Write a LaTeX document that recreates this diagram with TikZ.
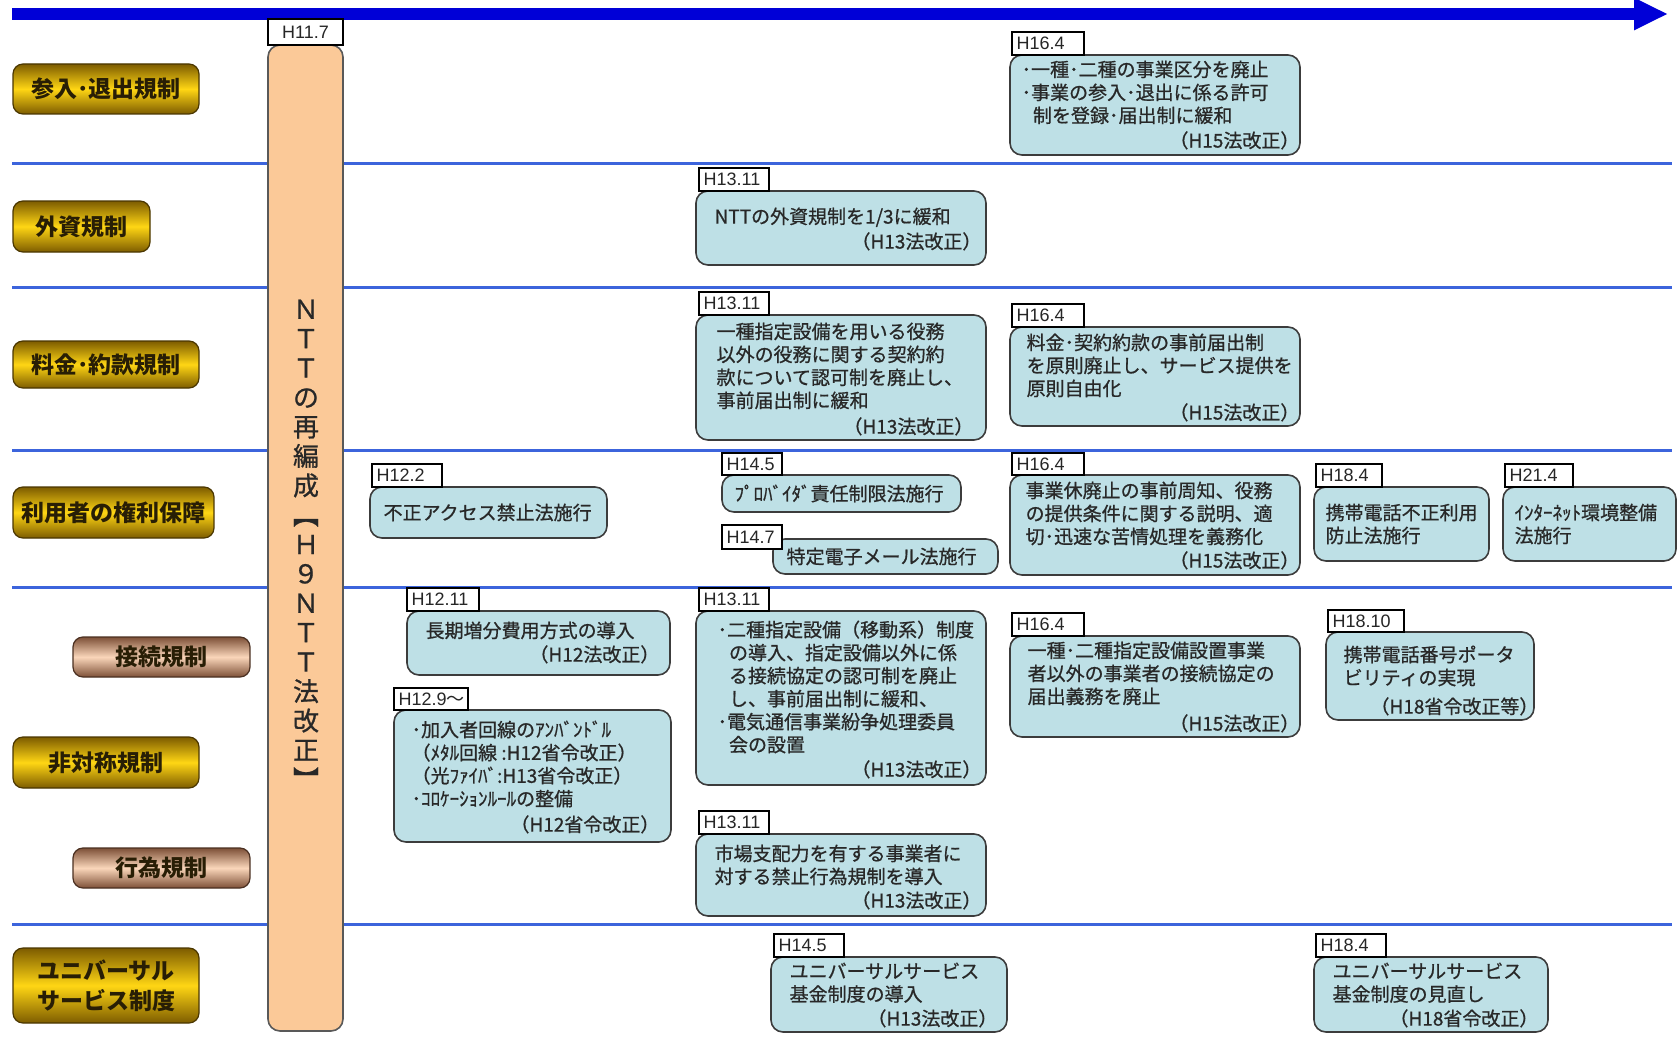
\documentclass[tikz,border=0pt]{standalone}
\usepackage{fontspec}
\usepackage{graphicx}
\setmainfont{Liberation Sans}
\newfontfamily\jp{Noto Sans CJK JP}
\newfontfamily\jpm[FakeBold=0.8]{Noto Sans CJK JP}
\usetikzlibrary{fit,arrows.meta}
\definecolor{tlblue}{RGB}{0,0,215}
\definecolor{sepblue}{RGB}{60,100,220}
\definecolor{evfill}{RGB}{190,224,230}
\definecolor{evline}{RGB}{60,60,60}
\definecolor{barfill}{RGB}{251,201,152}
\definecolor{txt}{RGB}{40,40,40}
\definecolor{golddark}{RGB}{125,92,0}
\definecolor{goldmid}{RGB}{255,214,20}
\definecolor{bronzedark}{RGB}{125,80,55}
\definecolor{bronzemid}{RGB}{250,214,186}
\definecolor{labtxt}{RGB}{40,30,5}
\tikzset{
 evb/.style={draw=evline, line width=0.8pt, fill=evfill, rounded corners=6pt, inner sep=0pt},
 datb/.style={draw=black, line width=0.7pt, fill=white, inner sep=0pt},
 datt/.style={font=\fontsize{9}{10}\selectfont, text=black!85, inner sep=0pt},
 evt/.style={font=\jpm\fontsize{9.5}{11.5}\selectfont, text=txt, align=left, inner sep=0pt},
 gold/.style={draw=golddark!60!black, line width=0.6pt, rounded corners=5pt, top color=golddark, bottom color=golddark, middle color=goldmid, inner sep=0pt},
 bronze/.style={draw=bronzedark!60!black, line width=0.6pt, rounded corners=5pt, top color=bronzedark, bottom color=bronzedark, middle color=bronzemid, inner sep=0pt},
 cattext/.style={font=\jp\bfseries\fontsize{11.5}{15}\selectfont, text=labtxt, align=center, inner sep=0pt},
 sepline/.style={draw=sepblue, line width=1.5pt},
 timeline/.style={draw=tlblue, line width=6pt, -{Triangle[length=17pt,width=15pt]}},
 bar/.style={draw=black!65, line width=0.8pt, fill=barfill, rounded corners=6pt, inner sep=0pt},
 bartext/.style={font=\jpm\fontsize{13}{14.7}\selectfont, text=txt, align=center, inner sep=0pt},
}
% style name x1 y1 x2 y2 text
\newcommand\catlab[7]{\node[#1, fit={(#3,#4) (#5,#6)}] (#2) {};
  \node[cattext] (#2t) at (#2.center) {#7};}
% name x1 y1 x2 y2
\newcommand\evbox[5]{\node[evb, fit={(#2,#3) (#4,#5)}] (#1) {};}
% name x1 y1 x2 y2 text
\newcommand\datelab[6]{\node[datb, fit={(#2,#3) (#4,#5)}] (#1) {};
  \node[datt, anchor=west] (#1t) at ([xshift=2.5pt]#1.west) {#6};}
% box dx dy text
\newcommand\evtxt[4]{\node[evt, anchor=north west] (#1t) at ([shift={(#2,#3)}]#1.north west) {#4};}
% box dx text  (vertically centred)
\newcommand\evmid[3]{\node[evt, anchor=west] (#1t) at ([xshift=#2*0.5pt]#1.west) {#3};}
% box dx dy text
\newcommand\evlaw[4]{\node[evt, anchor=south east] (#1l) at ([shift={(#2,#3)}]#1.south east) {#4};}
\begin{document}
\begin{tikzpicture}[x=0.5pt,y=-0.5pt]
\fill[white] (0,0) rectangle (1680,1038);
\useasboundingbox (0,0) rectangle (1680,1038);
% separators
\foreach \yy/\nm in {163/s1,287/s2,450/s3,587/s4,924/s5}{
  \coordinate (\nm a) at (12,\yy); \coordinate (\nm b) at (1672,\yy);
  \draw[sepline] (\nm a) -- (\nm b);}
% timeline
\coordinate (t0) at (12,14); \coordinate (t1) at (1668,14);
\draw[timeline] (t0) -- (t1);
% NTT bar
\node[bar, fit={(268,45) (343,1031)}] (bar) {};
\node[datb, fit={(268,19) (343,45)}] (barlab) {};
\node[datt] (barlabt) at (barlab.center) {H11.7};
\node[bartext] (ntt) at (306,546) {Ｎ\\Ｔ\\Ｔ\\の\\再\\編\\成\\\rotatebox[origin=c]{-90}{【}\\Ｈ\\９\\Ｎ\\Ｔ\\Ｔ\\法\\改\\正\\\rotatebox[origin=c]{-90}{】}};
% categories
\catlab{gold}{c1}{13}{64}{199}{114}{参入･退出規制}
\catlab{gold}{c2}{13}{201}{150}{252}{外資規制}
\catlab{gold}{c3}{13}{341}{199}{388}{料金･約款規制}
\catlab{gold}{c4}{13}{487}{214}{538}{利用者の権利保障}
\catlab{bronze}{c5}{73}{637}{250}{677}{接続規制}
\catlab{gold}{c6}{13}{737}{199}{788}{非対称規制}
\catlab{bronze}{c7}{73}{848}{250}{888}{行為規制}
\catlab{gold}{c8}{13}{948}{199}{1023}{ユニバーサル\\サービス制度}
% event boxes
\evbox{A}{1010}{55}{1300}{155}
\evtxt{A}{12}{6}{･一種･二種の事業区分を廃止\\･事業の参入･退出に係る許可\\\hspace*{0.6em}制を登録･届出制に緩和}
\evlaw{A}{-1}{-6}{（H15法改正）}
\datelab{Ad}{1012}{32}{1084}{55}{H16.4}

\evbox{B}{696}{191}{986}{265}
\evtxt{B}{19}{17}{NTTの外資規制を1/3に緩和}
\evlaw{B}{-5}{-15}{（H13法改正）}
\datelab{Bd}{699}{168}{769}{191}{H13.11}

\evbox{C}{696}{315}{986}{440}
\evtxt{C}{21}{8}{一種指定設備を用いる役務\\以外の役務に関する契約約\\款について認可制を廃止し、\\事前届出制に緩和}
\evlaw{C}{-13}{-5}{（H13法改正）}
\datelab{Cd}{699}{292}{769}{315}{H13.11}

\evbox{D}{1010}{327}{1300}{426}
\evtxt{D}{17}{7}{料金･契約約款の事前届出制\\を原則廃止し、サービス提供を\\原則自由化}
\evlaw{D}{-1}{-5}{（H15法改正）}
\datelab{Dd}{1012}{304}{1084}{327}{H16.4}

\evbox{E}{370}{487}{607}{538}
\evmid{E}{14}{不正アクセス禁止法施行}
\datelab{Ed}{372}{464}{442}{487}{H12.2}

\evbox{F}{722}{475}{961}{512}
\evmid{F}{13}{ﾌﾟﾛﾊﾞｲﾀﾞ責任制限法施行}
\datelab{Fd}{722}{453}{782}{475}{H14.5}

\evbox{G}{773}{539}{998}{574}
\evmid{G}{14}{特定電子メール法施行}
\datelab{Gd}{722}{525}{782}{549}{H14.7}

\evbox{H}{1010}{475}{1300}{575}
\evtxt{H}{16}{7}{事業休廃止の事前周知、役務\\の提供条件に関する説明、適\\切･迅速な苦情処理を義務化}
\evlaw{H}{-1}{-6}{（H15法改正）}
\datelab{Hd}{1012}{453}{1084}{475}{H16.4}

\evbox{I}{1314}{487}{1489}{561}
\evmid{I}{12}{携帯電話不正利用\\防止法施行}
\datelab{Id}{1316}{464}{1382}{487}{H18.4}

\evbox{J}{1503}{487}{1676}{561}
\evmid{J}{12}{ｲﾝﾀｰﾈｯﾄ環境整備\\法施行}
\datelab{Jd}{1505}{464}{1573}{487}{H21.4}

\evbox{K}{407}{611}{670}{675}
\evtxt{K}{19}{11}{長期増分費用方式の導入}
\evlaw{K}{-11}{-12}{（H12法改正）}
\datelab{Kd}{407}{588}{479}{611}{H12.11}

\evbox{L}{394}{710}{671}{842}
\evtxt{L}{18}{11}{･加入者回線のｱﾝﾊﾞﾝﾄﾞﾙ\\（ﾒﾀﾙ回線 :H12省令改正）\\（光ﾌｧｲﾊﾞ:H13省令改正）\\･ｺﾛｹｰｼｮﾝﾙｰﾙの整備}
\evlaw{L}{-12}{-9}{（H12省令改正）}
\datelab{Ld}{394}{688}{468}{710}{H12.9{\jp ～}}

\evbox{M}{696}{611}{986}{785}
\evtxt{M}{22}{10}{･二種指定設備（移動系）制度\\\hspace*{0.6em}の導入、指定設備以外に係\\\hspace*{0.6em}る接続協定の認可制を廃止\\\hspace*{0.6em}し、事前届出制に緩和、\\･電気通信事業紛争処理委員\\\hspace*{0.6em}会の設置}
\evlaw{M}{-5}{-7}{（H13法改正）}
\datelab{Md}{699}{588}{769}{611}{H13.11}

\evbox{N}{696}{834}{986}{916}
\evtxt{N}{19}{11}{市場支配力を有する事業者に\\対する禁止行為規制を導入}
\evlaw{N}{-5}{-7}{（H13法改正）}
\datelab{Nd}{699}{811}{769}{834}{H13.11}

\evbox{O}{1010}{636}{1300}{737}
\evtxt{O}{18}{6}{一種･二種指定設備設置事業\\者以外の事業者の接続協定の\\届出義務を廃止}
\evlaw{O}{-1}{-5}{（H15法改正）}
\datelab{Od}{1012}{613}{1084}{636}{H16.4}

\evbox{P}{1326}{632}{1534}{720}
\evtxt{P}{18}{14}{携帯電話番号ポータ\\ビリティの実現}
\evlaw{P}{4}{-5}{（H18省令改正等）}
\datelab{Pd}{1328}{610}{1404}{632}{H18.10}

\evbox{Q}{771}{957}{1007}{1032}
\evtxt{Q}{19}{6}{ユニバーサルサービス\\基金制度の導入}
\evlaw{Q}{-10}{-5}{（H13法改正）}
\datelab{Qd}{774}{934}{844}{957}{H14.5}

\evbox{R}{1314}{957}{1548}{1032}
\evtxt{R}{19}{6}{ユニバーサルサービス\\基金制度の見直し}
\evlaw{R}{-10}{-5}{（H18省令改正）}
\datelab{Rd}{1316}{934}{1386}{957}{H18.4}
\end{tikzpicture}
\end{document}
